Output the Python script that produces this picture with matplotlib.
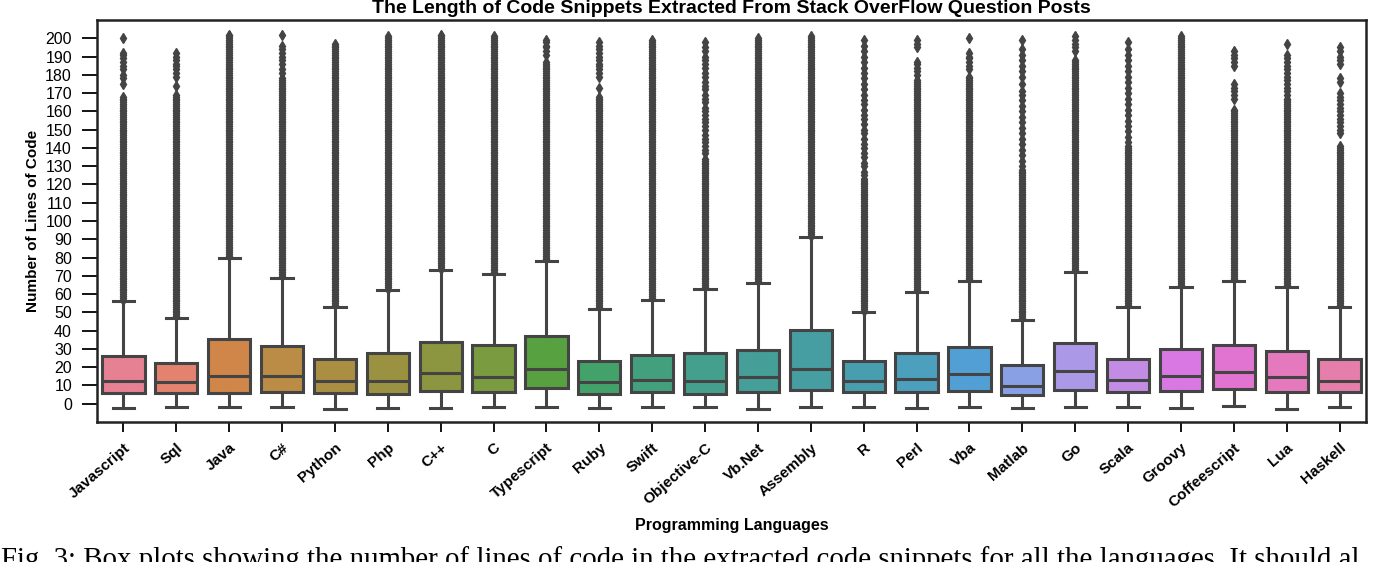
import numpy as np
import matplotlib
matplotlib.use("Agg")
import matplotlib.pyplot as plt
import seaborn as sns

languages = ["Javascript", "Sql", "Java", "C#", "Python", "Php", "C++", "C",
             "Typescript", "Ruby", "Swift", "Objective-C", "Vb.Net", "Assembly",
             "R", "Perl", "Vba", "Matlab", "Go", "Scala", "Groovy",
             "Coffeescript", "Lua", "Haskell"]

# box statistics
q1 = [5.9, 5.9, 5.9, 6.4, 5.9, 5.1, 7.1, 6.6, 8.8, 5.1, 6.2, 5.1,
      6.4, 7.3, 6.4, 6.4, 7.1, 4.6, 7.7, 6.4, 7.1, 8.2, 6.4, 6.4]
medians = [12.6, 11.7, 15.3, 15.3, 12.4, 12.6, 17.0, 14.6, 19.2, 11.7, 13.2, 12.4,
           14.4, 19.2, 12.6, 13.7, 16.1, 9.9, 17.7, 13.0, 15.1, 17.2, 14.4, 12.6]
q3 = [25.9, 22.1, 35.2, 31.4, 24.7, 27.6, 33.6, 31.9, 36.9, 23.6, 26.5, 27.9,
      29.6, 40.5, 23.6, 27.9, 31.2, 21.4, 33.4, 24.7, 29.8, 32.0, 29.0, 24.7]
whisker_lo = [-2.6, -2.0, -2.0, -2.0, -2.7, -2.6, -2.6, -2.0, -2.0, -2.6, -2.0, -2.0,
              -3.1, -2.0, -1.6, -2.6, -2.0, -2.6, -2.0, -2.0, -2.6, -1.5, -3.1, -2.0]
whisker_hi = [56, 47, 80, 69, 53, 62, 73, 71, 78, 52, 57, 63,
              66, 91, 50, 61, 67, 46, 72, 53, 64, 67, 64, 53]

# outliers: a solid run of values above the whisker up to dense_top,
# then the separate points seen near the top of each column
dense_top = [168, 169, 202, 178, 197, 201, 202, 201, 187, 168, 199, 134,
             200, 201, 123, 177, 179, 128, 188, 141, 201, 161, 166, 141]
sparse_fliers = [
    [175, 178, 180, 183, 185, 187, 189, 191, 192, 200],
    [174, 179, 181, 183, 185, 186, 188, 190, 192],
    [],
    [181, 183, 186, 188, 190, 192, 194, 196, 202],
    [], [], [], [],
    [191, 193, 195, 196, 198, 199],
    [173, 179, 181, 183, 185, 186, 188, 190, 192, 194, 196, 198],
    [],
    [137, 139, 141, 143, 145, 147, 150, 152, 154, 156, 158, 160, 162, 165,
     167, 169, 172, 174, 176, 179, 181, 184, 186, 188, 190, 193, 195, 198],
    [], [],
    [125, 127, 130, 132, 135, 137, 140, 142, 145, 148, 150, 153, 156, 158,
     161, 164, 166, 169, 172, 175, 178, 181, 184, 187, 190, 193, 196, 199],
    [180, 182, 184, 186, 187, 195, 197, 199],
    [183, 185, 187, 189, 190, 192, 200],
    [130, 133, 136, 139, 142, 145, 148, 151, 154, 157, 160, 163, 166, 169,
     171, 175, 179, 182, 185, 188, 191, 194, 199],
    [193, 195, 197, 199, 201],
    [143, 146, 149, 152, 155, 158, 161, 164, 167, 170, 173, 176, 179, 182,
     185, 188, 191, 194, 198],
    [],
    [167, 169, 171, 173, 175, 185, 187, 189, 191, 193],
    [167, 169, 171, 173, 175, 177, 179, 181, 183, 185, 187, 189, 191, 197],
    [148, 150, 152, 154, 156, 158, 160, 162, 164, 166, 168, 170, 176, 178,
     186, 188, 190, 193, 195],
]

stats = []
for i, lang in enumerate(languages):
    fl = np.concatenate([np.arange(int(whisker_hi[i]) + 1, dense_top[i] + 1),
                         np.array(sparse_fliers[i], dtype=float)])
    stats.append(dict(label=lang, med=medians[i], q1=q1[i], q3=q3[i],
                      whislo=whisker_lo[i], whishi=whisker_hi[i], fliers=fl))

colors = [sns.desaturate(c, 0.75) for c in sns.color_palette("husl", len(languages))]
line_c = "#444444"

plt.rcParams["font.family"] = ["Liberation Sans", "DejaVu Sans"]
fig = plt.figure(figsize=(13.74, 5.62), dpi=100)
ax = fig.add_axes([97 / 1374, 1 - 422 / 562, (1366 - 97) / 1374, (422 - 20) / 562])

bp = ax.bxp(stats, positions=np.arange(len(languages)), widths=0.8,
            patch_artist=True,
            boxprops=dict(edgecolor=line_c, linewidth=2.2),
            medianprops=dict(color=line_c, linewidth=2.2),
            whiskerprops=dict(color=line_c, linewidth=2.2),
            capprops=dict(color=line_c, linewidth=2.2),
            flierprops=dict(marker="d", markersize=5, markerfacecolor=line_c,
                            markeredgecolor=line_c, linestyle="none"))
for patch, c in zip(bp["boxes"], colors):
    patch.set_facecolor(c)

ax.set_xlim(-0.5, len(languages) - 0.5)
ax.set_ylim(-10, 210)
ax.set_yticks(np.arange(0, 201, 10))
ax.set_xticks(np.arange(len(languages)))
ax.set_xticklabels(languages, rotation=41, ha="right", rotation_mode="anchor",
                   fontsize=11, fontweight="bold")
ax.tick_params(axis="y", labelsize=11.5, length=11, width=1.3, direction="out", pad=7)
ax.tick_params(axis="x", length=7.5, width=1.3, direction="out", pad=6)
for s in ax.spines.values():
    s.set_linewidth(1.8)
    s.set_color("#222222")

ax.set_title("The Length of Code Snippets Extracted From Stack OverFlow Question Posts",
             fontsize=14, fontweight="bold", pad=5)
ax.set_ylabel("Number of Lines of Code", fontsize=11, fontweight="bold", labelpad=4)
ax.set_xlabel("Programming Languages", fontsize=11.5, fontweight="bold", labelpad=6)

fig.text(0.001, -0.009, "Fig. 3: Box plots showing the number of lines of code in the extracted "
         "code snippets for all the languages. It should al",
         fontsize=20.8, family="Liberation Serif", ha="left", va="baseline")

fig.savefig("out.png", dpi=100)
